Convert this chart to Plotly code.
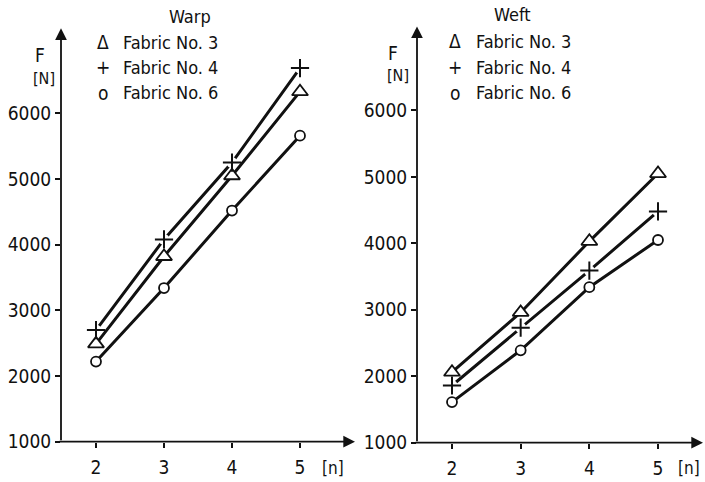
import plotly.graph_objects as go

# ---- data ----
n_values = [2, 3, 4, 5]
warp_fabric3 = [2490, 3820, 5050, 6330]
warp_fabric4 = [2700, 4080, 5250, 6690]
warp_fabric6 = [2220, 3340, 4520, 5660]
weft_fabric3 = [2060, 2960, 4030, 5050]
weft_fabric4 = [1860, 2730, 3590, 4480]
weft_fabric6 = [1610, 2390, 3340, 4050]
y_ticks = [1000, 2000, 3000, 4000, 5000, 6000]
x_ticks = [2, 3, 4, 5]
legend_labels = ["Fabric No. 3", "Fabric No. 4", "Fabric No. 6"]
panel_titles = ["Warp", "Weft"]

W, H = 705, 482
FONT = "DejaVu Sans Condensed, DejaVu Sans, sans-serif"
BLACK = "#111111"

fig = go.Figure()

def add_series(xa, ya, xs, ys, symbol, name):
    fig.add_trace(go.Scatter(x=xs, y=ys, mode="lines", line=dict(color=BLACK, width=3),
                             xaxis=xa, yaxis=ya, showlegend=False, hoverinfo="skip", name=name))
    if symbol == "cross-thin":
        fig.add_trace(go.Scatter(x=xs, y=ys, mode="markers", xaxis=xa, yaxis=ya, showlegend=False,
                                 marker=dict(symbol="circle", size=11, color="white",
                                             line=dict(width=0)), hoverinfo="skip"))
        fig.add_trace(go.Scatter(x=xs, y=ys, mode="markers", xaxis=xa, yaxis=ya, showlegend=False,
                                 name=name,
                                 marker=dict(symbol="cross-thin", size=13, color=BLACK,
                                             line=dict(width=2, color=BLACK))))
    else:
        size = 14 if symbol == "triangle-up" else 10
        fig.add_trace(go.Scatter(x=xs, y=ys, mode="markers", xaxis=xa, yaxis=ya, showlegend=False,
                                 name=name,
                                 marker=dict(symbol=symbol, size=size, color="white",
                                             line=dict(width=1.8, color=BLACK))))

add_series("x", "y", n_values, warp_fabric3, "triangle-up", legend_labels[0])
add_series("x", "y", n_values, warp_fabric4, "cross-thin", legend_labels[1])
add_series("x", "y", n_values, warp_fabric6, "circle", legend_labels[2])
add_series("x2", "y2", n_values, weft_fabric3, "triangle-up", legend_labels[0])
add_series("x2", "y2", n_values, weft_fabric4, "cross-thin", legend_labels[1])
add_series("x2", "y2", n_values, weft_fabric6, "circle", legend_labels[2])

# axis geometry (pixels -> paper)
L = dict(x0=61, x_end=355, x2px=96, pxu=68.0, y1000=452, ytop=29, pxk=67.2)
R = dict(x0=417, x_end=703, x2px=452, pxu=68.67, y1000=453, ytop=27, pxk=68.0)

def axes(p):
    xr = [2 - (p["x2px"] - p["x0"]) / p["pxu"], 2 + (p["x_end"] - p["x2px"]) / p["pxu"]]
    yr = [1000, 1000 + (p["y1000"] - p["ytop"]) / p["pxk"] * 1000]
    xd = [p["x0"] / W, p["x_end"] / W]
    yd = [1 - p["y1000"] / H, 1 - p["ytop"] / H]
    return xr, yr, xd, yd

tickfont = dict(family=FONT, size=19, color=BLACK)
common_x = dict(tickvals=x_ticks, ticks="outside", ticklen=5, tickwidth=1.5, tickcolor=BLACK,
                showline=False, showgrid=False, zeroline=False, tickfont=tickfont, fixedrange=True,
                ticklabelstandoff=4)
common_y = dict(tickvals=y_ticks, ticks="outside", ticklen=5, tickwidth=1.5, tickcolor=BLACK,
                showline=False, showgrid=False, zeroline=False, tickfont=tickfont, fixedrange=True)

annotations = []
for i, p in enumerate([L, R]):
    xr, yr, xd, yd = axes(p)
    xk = "xaxis" if i == 0 else "xaxis2"
    yk = "yaxis" if i == 0 else "yaxis2"
    xa = "x" if i == 0 else "x2"
    ya = "y" if i == 0 else "y2"
    fig.update_layout(**{
        xk: dict(common_x, range=xr, domain=xd, anchor=ya),
        yk: dict(common_y, range=yr, domain=yd, anchor=xa),
    })
    # axis lines with arrowheads
    annotations.append(dict(xref=xa, yref=ya, axref=xa, ayref=ya, x=xr[0], y=yr[1],
                            ax=xr[0], ay=yr[0], text="", showarrow=True, arrowhead=2,
                            arrowsize=1.3, arrowwidth=1.8, arrowcolor=BLACK, standoff=0))
    annotations.append(dict(xref=xa, yref=ya, axref=xa, ayref=ya, x=xr[1], y=yr[0],
                            ax=xr[0] - 3 / p["pxu"], ay=yr[0], text="", showarrow=True, arrowhead=2,
                            arrowsize=1.3, arrowwidth=1.8, arrowcolor=BLACK, standoff=0))

def txt(px, py, s, size=18, xanchor="center", yanchor="middle", yshift=0):
    annotations.append(dict(xref="paper", yref="paper", x=px / W, y=1 - py / H, text=s,
                            showarrow=False, xanchor=xanchor, yanchor=yanchor, yshift=yshift,
                            font=dict(family=FONT, size=size, color=BLACK)))

# titles
txt(190, 17, panel_titles[0])
txt(512, 15, panel_titles[1])
# axis labels
txt(40, 56, "F", 19)
txt(44, 80, "[N]", 16)
txt(393, 54, "F", 19)
txt(398, 77, "[N]", 16)
txt(333, 469, "[n]", 17, yshift=-10)
txt(689, 469, "[n]", 17, yshift=-10)
# legends
symbols = ["Δ", "+", "o"]
for (sx, tx, ys) in [(103, 121, [43, 69, 95]), (455, 474, [42, 69, 95])]:
    for sym, lab, yy in zip(symbols, legend_labels, ys):
        txt(sx, yy, sym, 19)
        txt(tx, yy, lab, 18, xanchor="left")

fig.update_layout(width=W, height=H, margin=dict(l=0, r=0, t=0, b=0),
                  paper_bgcolor="white", plot_bgcolor="white", showlegend=False,
                  annotations=annotations)

fig.write_html("out.html", config={"displayModeBar": False},
               post_script="document.body.style.margin='0';document.body.style.overflow='hidden';")
